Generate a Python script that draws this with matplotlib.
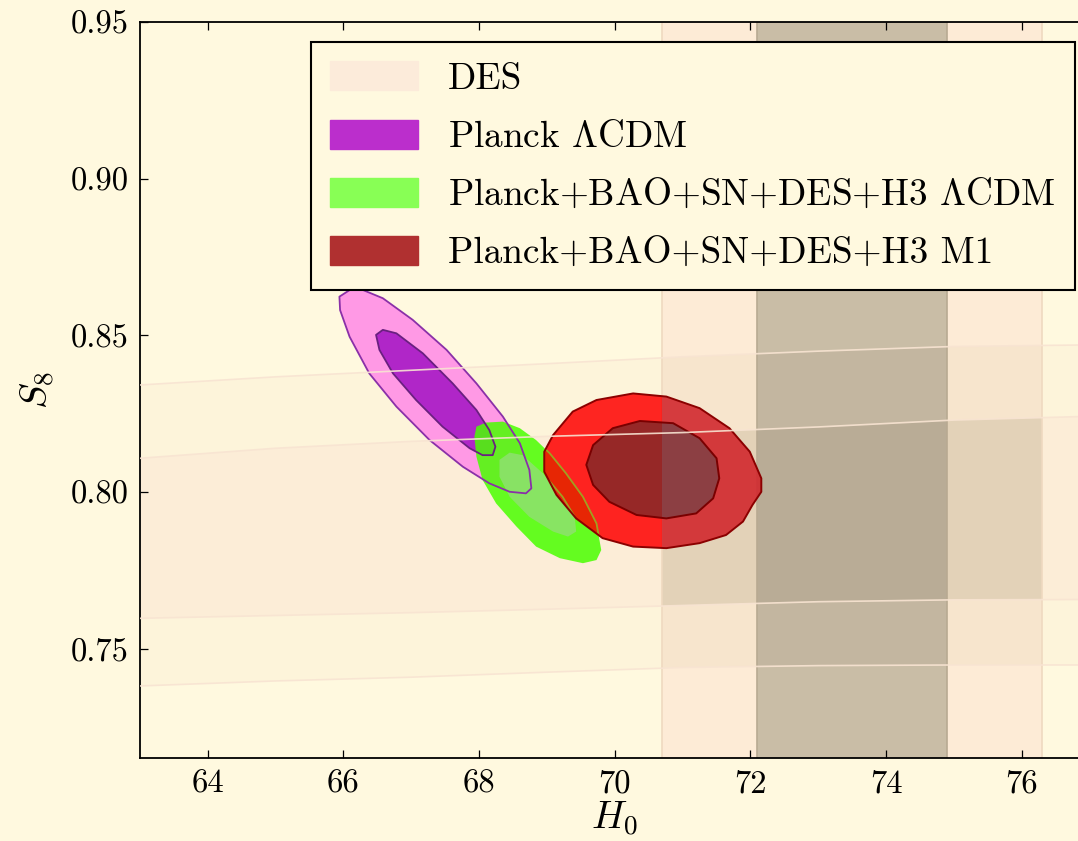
import numpy as np
import matplotlib.pyplot as plt
from matplotlib.patches import Polygon, Patch
from matplotlib.ticker import FormatStrFormatter

plt.rcParams['font.family'] = 'serif'
plt.rcParams['font.serif'] = ['cmr10']
plt.rcParams['mathtext.fontset'] = 'cm'
plt.rcParams['axes.formatter.use_mathtext'] = True

# DES S8 band edges (68% and 95%) read at a few H0 values
des_h0 = [63.0, 65.0, 67.0, 69.0, 71.0, 73.0, 75.0, 77.0]
des_outer_top = [0.8342, 0.8368, 0.8389, 0.8410, 0.8432, 0.8450, 0.8465, 0.8470]
des_inner_top = [0.8108, 0.8140, 0.8162, 0.8178, 0.8190, 0.8208, 0.8230, 0.8242]
des_inner_bot = [0.7597, 0.7606, 0.7615, 0.7626, 0.7638, 0.7650, 0.7656, 0.7657]
des_outer_bot = [0.7381, 0.7397, 0.7409, 0.7425, 0.7440, 0.7446, 0.7448, 0.7448]

# local H0: 73.5 +- 1.4
h0_1sig = (72.1, 74.9)
h0_2sig = (70.7, 76.3)

# Planck LCDM contours
planck_outer_h0 = [65.94, 66.09, 66.29, 66.58, 67.02, 67.52, 67.96, 68.35, 68.60, 68.74,
                   68.77, 68.69, 68.45, 68.15, 67.76, 67.27, 66.78, 66.38, 66.09, 65.95]
planck_outer_s8 = [0.8624, 0.8645, 0.8645, 0.8619, 0.8550, 0.8454, 0.8347, 0.8241, 0.8156, 0.8071,
                   0.8012, 0.7996, 0.8001, 0.8028, 0.8081, 0.8166, 0.8273, 0.8379, 0.8496, 0.8581]
planck_inner_h0 = [66.48, 66.58, 66.78, 67.17, 67.61, 67.96, 68.15, 68.24,
                   68.20, 68.05, 67.86, 67.46, 67.07, 66.73, 66.53]
planck_inner_s8 = [0.8502, 0.8518, 0.8507, 0.8443, 0.8347, 0.8262, 0.8198, 0.8145,
                   0.8118, 0.8118, 0.8140, 0.8209, 0.8294, 0.8379, 0.8454]

# Planck+BAO+SN+DES+H3 LCDM contours
lcdm_outer_h0 = [67.96, 68.10, 68.35, 68.60, 68.84, 69.04, 69.28, 69.53, 69.73, 69.80,
                 69.73, 69.53, 69.19, 68.84, 68.55, 68.25, 68.05, 67.96, 67.93]
lcdm_outer_s8 = [0.8209, 0.8222, 0.8225, 0.8204, 0.8166, 0.8124, 0.8060, 0.7985, 0.7900, 0.7815,
                 0.7783, 0.7773, 0.7789, 0.7826, 0.7890, 0.7964, 0.8039, 0.8113, 0.8177]
lcdm_inner_h0 = [68.30, 68.45, 68.64, 68.94, 69.23, 69.41, 69.43, 69.31, 69.09, 68.74, 68.45, 68.30]
lcdm_inner_s8 = [0.8103, 0.8126, 0.8118, 0.8060, 0.7985, 0.7921, 0.7874, 0.7858, 0.7874, 0.7921, 0.7985, 0.8049]

# Planck+BAO+SN+DES+H3 M1 contours
m1_outer_h0 = [68.96, 69.09, 69.38, 69.73, 70.27, 70.76, 71.25, 71.69, 71.99, 72.16, 72.16,
               72.03, 71.89, 71.64, 71.25, 70.76, 70.27, 69.82, 69.43, 69.14, 68.96]
m1_outer_s8 = [0.8129, 0.8182, 0.8257, 0.8294, 0.8315, 0.8305, 0.8268, 0.8204, 0.8129, 0.8044, 0.8001,
               0.7959, 0.7906, 0.7863, 0.7837, 0.7821, 0.7826, 0.7853, 0.7916, 0.7991, 0.8065]
m1_inner_h0 = [69.58, 69.68, 69.97, 70.37, 70.86, 71.25, 71.50, 71.54, 71.45, 71.20, 70.76, 70.32, 69.92, 69.68]
m1_inner_s8 = [0.8087, 0.8150, 0.8204, 0.8227, 0.8220, 0.8172, 0.8108, 0.8044, 0.7980, 0.7932,
               0.7916, 0.7927, 0.7969, 0.8023]

legend_labels = ['DES', r'Planck $\Lambda$CDM',
                 r'Planck+BAO+SN+DES+H3 $\Lambda$CDM', 'Planck+BAO+SN+DES+H3 M1']
legend_colors = ['#FCEBDA', '#BB2ECC', '#88FF55', '#B03030']

cream = '#FFF9DF'


def poly(h0, s8, **kw):
    return Polygon(np.column_stack([h0, s8]), closed=True, joinstyle='round', **kw)


def band(h0, top, bot, **kw):
    xs = np.r_[h0, h0[::-1]]
    ys = np.r_[top, bot[::-1]]
    return Polygon(np.column_stack([xs, ys]), closed=True, **kw)


fig = plt.figure(figsize=(10.78, 8.41), dpi=100, facecolor=cream)
ax = fig.add_axes([140 / 1078, 83 / 841, 949.6 / 1078, 735.7 / 841])
ax.set_facecolor(cream)

# DES bands
des_out = band(des_h0, des_outer_top, des_outer_bot, facecolor='#F3DCC4', alpha=0.15, lw=0, zorder=1)
des_in = band(des_h0, des_inner_top, des_inner_bot, facecolor='#FCEDD7', lw=0, zorder=1.1)
ax.add_patch(des_out)
ax.add_patch(des_in)

# H0 bands, darker where they cross the DES bands
ax.axvspan(*h0_2sig, color='#FDEBD6', lw=0, zorder=1.2)
s = ax.axvspan(*h0_2sig, color='#F7E5CD', lw=0, zorder=1.25)
s.set_clip_path(des_out)
s = ax.axvspan(*h0_2sig, color='#E3D2B8', lw=0, zorder=1.3)
s.set_clip_path(des_in)
ax.axvspan(*h0_1sig, color='#C9BDA6', lw=0, zorder=1.4)
s = ax.axvspan(*h0_1sig, color='#C3B6A0', lw=0, zorder=1.45)
s.set_clip_path(des_out)
s = ax.axvspan(*h0_1sig, color='#B9AC96', lw=0, zorder=1.5)
s.set_clip_path(des_in)
for x in h0_2sig:
    ax.axvline(x, color='#EFD9C0', lw=1.2, zorder=1.6)
for x in h0_1sig:
    ax.axvline(x, color='#B8AA92', lw=1.2, zorder=1.6)

# Planck
ax.add_patch(poly(planck_outer_h0, planck_outer_s8, facecolor='#FF99E5', edgecolor='none', zorder=3))
ax.add_patch(poly(planck_inner_h0, planck_inner_s8, facecolor='#B026C8', edgecolor='none', zorder=3.1))

# LCDM combined
ax.add_patch(poly(lcdm_outer_h0, lcdm_outer_s8, facecolor='#49FF00', alpha=0.85, edgecolor='none', zorder=4))
ax.add_patch(poly(lcdm_inner_h0, lcdm_inner_s8, facecolor='#8FE070', alpha=0.85, edgecolor='none', zorder=4.1))

ax.add_patch(poly(planck_outer_h0, planck_outer_s8, fill=False, edgecolor='#8A30A8', lw=1.3, zorder=4.5))
ax.add_patch(poly(planck_inner_h0, planck_inner_s8, fill=False, edgecolor='#6A2080', lw=1.3, zorder=4.5))

# M1
red_out = poly(m1_outer_h0, m1_outer_s8, facecolor='#FF0000', alpha=0.85, edgecolor='none', zorder=5)
ax.add_patch(red_out)
ax.add_patch(poly(m1_inner_h0, m1_inner_s8, facecolor='#842929', alpha=0.85, edgecolor='none', zorder=5.1))
s = ax.axvspan(*h0_2sig, color='#797888', alpha=0.3, lw=0, zorder=5.2)
s.set_clip_path(red_out)
for h0, s8 in [(lcdm_outer_h0, lcdm_outer_s8), (lcdm_inner_h0, lcdm_inner_s8)]:
    e = poly(h0, s8, fill=False, edgecolor='#A0A020', lw=1.3, zorder=5.3)
    ax.add_patch(e)
    e.set_clip_path(red_out)
ax.add_patch(poly(m1_outer_h0, m1_outer_s8, fill=False, edgecolor='#8B0000', lw=1.4, zorder=5.4))
ax.add_patch(poly(m1_inner_h0, m1_inner_s8, fill=False, edgecolor='#7A0000', lw=1.4, zorder=5.4))

# DES contour edges
for ys in [des_outer_top, des_inner_top, des_inner_bot, des_outer_bot]:
    ax.plot(des_h0, ys, color='#F8E4D2', lw=1.2, alpha=0.9, zorder=6)

ax.set_xlim(63.0, 77.0)
ax.set_ylim(0.7151, 0.95)
ax.set_xticks([64, 66, 68, 70, 72, 74, 76])
ax.set_yticks([0.75, 0.80, 0.85, 0.90, 0.95])
ax.xaxis.set_major_formatter(FormatStrFormatter('%d'))
ax.yaxis.set_major_formatter(FormatStrFormatter('%.2f'))
ax.tick_params(direction='in', length=6, width=0.9, labelsize=23.5, pad=8,
               top=True, right=True)
for sp in ax.spines.values():
    sp.set_linewidth(1.3)
ax.set_xlabel(r'$H_0$', fontsize=28, labelpad=1)
ax.set_ylabel(r'$S_8$', fontsize=28, labelpad=10)

handles = [Patch(facecolor=c, edgecolor=c) for c in legend_colors]
leg = ax.legend(handles, legend_labels, loc='upper left',
                bbox_to_anchor=(311 / 1078, 1 - 42 / 841), bbox_transform=fig.transFigure,
                borderaxespad=0, fontsize=26.8, handlelength=2.35, handleheight=0.82,
                handletextpad=0.8, labelspacing=0.64, borderpad=0.52,
                fancybox=False, framealpha=1, facecolor=cream, edgecolor='black')
leg.get_frame().set_linewidth(1.5)
leg.set_zorder(10)

fig.savefig('out.png', dpi=100, facecolor=cream)
